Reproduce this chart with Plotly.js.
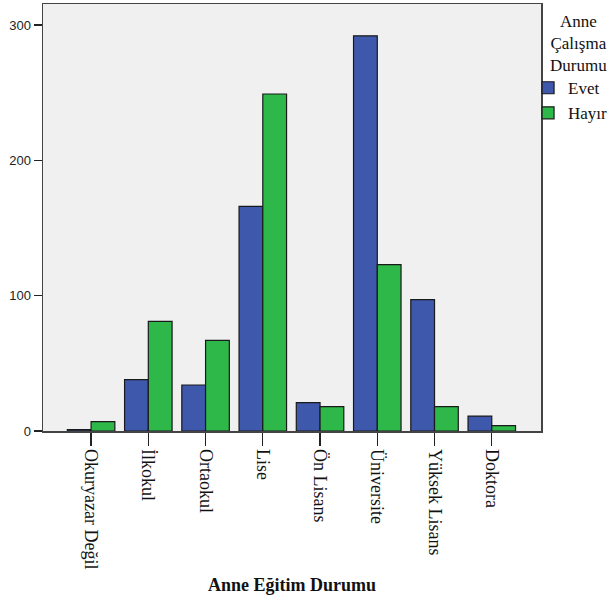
<!DOCTYPE html>
<html>
<head>
<meta charset="utf-8">
<script src="https://cdn.plot.ly/plotly-3.0.1.min.js"></script>
<style>html,body{margin:0;padding:0;background:#fff;}#chart{width:610px;height:604px;}</style>
</head>
<body>
<div id="chart"></div>
<script>
const categories = ["Okuryazar Değil", "İlkokul", "Ortaokul", "Lise", "Ön Lisans", "Üniversite", "Yüksek Lisans", "Doktora"];
const evetValues = [1, 38, 34, 166, 21, 292, 97, 11];
const hayirValues = [7, 81, 67, 249, 18, 123, 18, 4];
const seriesNames = ["Evet", "Hayır"];
const yTickValues = [0, 100, 200, 300];
const legendTitle = "Anne<br>Çalışma<br>Durumu";

const serif = "Liberation Serif";
const sans = "Liberation Sans";

const traces = [
  {
    type: "bar", name: seriesNames[0], x: categories, y: evetValues,
    marker: {color: "#3E58AC", line: {color: "#1a1a1a", width: 1.2}}
  },
  {
    type: "bar", name: seriesNames[1], x: categories, y: hayirValues,
    marker: {color: "#2EB84A", line: {color: "#1a1a1a", width: 1.2}}
  }
];

const layout = {
  width: 610, height: 604,
  margin: {l: 43, r: 69, t: 4, b: 173, autoexpand: false},
  paper_bgcolor: "#ffffff",
  plot_bgcolor: "#F0F0F0",
  barmode: "group",
  bargap: 0.17,
  bargroupgap: 0,
  showlegend: true,
  legend: {
    x: 0.974, xanchor: "left", y: 0.845, yanchor: "top",
    bgcolor: "rgba(0,0,0,0)",
    font: {family: serif, size: 17, color: "#111"},
    tracegroupgap: 0
  },
  annotations: [{
    text: legendTitle, xref: "paper", yref: "paper",
    x: 1.075, xanchor: "center", y: 0.985, yanchor: "top",
    showarrow: false, align: "center",
    font: {family: serif, size: 17, color: "#111"}
  }],
  xaxis: {
    type: "category",
    range: [-0.84, 7.86],
    showline: true, mirror: true, linecolor: "#444", linewidth: 1.5,
    ticks: "outside", ticklen: 13, tickwidth: 1.2, tickcolor: "#222",
    tickangle: 90,
    tickfont: {family: serif, size: 18, color: "#111"},
    showgrid: false, zeroline: false,
    title: {text: "<b>Anne Eğitim Durumu</b>", font: {family: serif, size: 18, color: "#111"}, standoff: 10}
  },
  yaxis: {
    range: [0, 315.5],
    tickvals: yTickValues,
    showline: true, mirror: true, linecolor: "#444", linewidth: 1.5,
    ticks: "outside", ticklen: 8, tickwidth: 1.2, tickcolor: "#222",
    tickfont: {family: sans, size: 13, color: "#222"},
    showgrid: false, zeroline: false
  }
};

Plotly.newPlot("chart", traces, layout, {displayModeBar: false, staticPlot: true});
</script>
</body>
</html>
